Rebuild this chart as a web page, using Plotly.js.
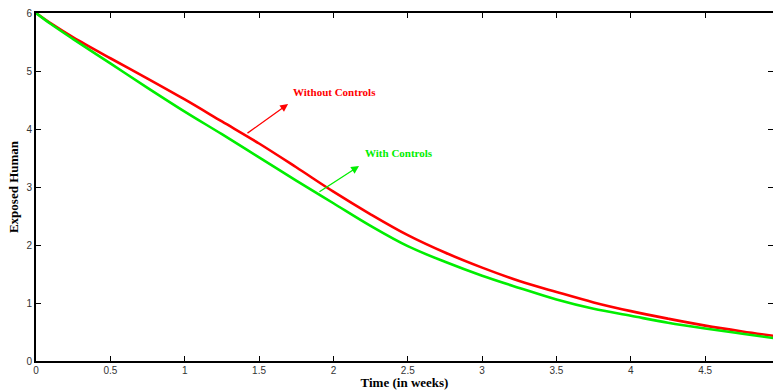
<!DOCTYPE html>
<html>
<head>
<meta charset="utf-8">
<script src="https://cdn.plot.ly/plotly-3.0.1.min.js"></script>
<style>html,body{margin:0;padding:0;background:#fff;}#chart{width:773px;height:390px;}</style>
</head>
<body>
<div id="chart"></div>
<script>
const timeWeeks = [0, 0.1, 0.25, 0.5, 0.75, 1, 1.25, 1.5, 1.75, 2, 2.25, 2.5, 2.75, 3, 3.25, 3.5, 3.75, 4, 4.25, 4.5, 4.75, 5];
const withoutControls = [6.0, 5.82, 5.58, 5.22, 4.87, 4.51, 4.13, 3.75, 3.34, 2.92, 2.53, 2.17, 1.87, 1.61, 1.38, 1.19, 1.01, 0.86, 0.73, 0.61, 0.51, 0.42];
const withControls = [6.0, 5.81, 5.55, 5.13, 4.71, 4.30, 3.91, 3.51, 3.11, 2.72, 2.33, 1.98, 1.71, 1.47, 1.26, 1.06, 0.90, 0.78, 0.66, 0.56, 0.47, 0.38];
const xTicks = [0, 0.5, 1, 1.5, 2, 2.5, 3, 3.5, 4, 4.5, 5];
const xTickLabels = ["0", "0.5", "1", "1.5", "2", "2.5", "3", "3.5", "4", "4.5", "5"];
const yTicks = [0, 1, 2, 3, 4, 5, 6];
const yTickLabels = ["0", "1", "2", "3", "4", "5", "6"];
const seriesNames = ["Without Controls", "With Controls"];

const data = [
  {x: timeWeeks, y: withoutControls, name: seriesNames[0], mode: 'lines', line: {color: '#ff0000', width: 2.6, shape: 'spline'}},
  {x: timeWeeks, y: withControls, name: seriesNames[1], mode: 'lines', line: {color: '#00ee00', width: 2.6, shape: 'spline'}}
];

const serif = 'Liberation Serif, Times New Roman, serif';
const layout = {
  width: 773, height: 390,
  margin: {l: 36, r: 0, t: 13, b: 29},
  paper_bgcolor: '#fff', plot_bgcolor: '#fff',
  showlegend: false,
  font: {family: 'Liberation Sans, Arial, sans-serif', size: 10, color: '#333'},
  xaxis: {
    range: [0, 4.956], tickvals: xTicks, ticktext: xTickLabels,
    showgrid: false, zeroline: false, showline: true, linecolor: '#000', linewidth: 2,
    mirror: 'allticks', ticks: 'inside', ticklen: 5, tickcolor: '#000', tickwidth: 1,
    ticklabelstandoff: -1,
    tickfont: {size: 10, color: '#333'},
    title: {text: 'Time (in weeks)', font: {family: serif, size: 13, color: '#000', weight: 'bold'}, standoff: 4}
  },
  yaxis: {
    range: [0, 6], tickvals: yTicks, ticktext: yTickLabels,
    showgrid: false, zeroline: false, showline: true, linecolor: '#000', linewidth: 2,
    mirror: 'allticks', ticks: 'inside', ticklen: 5, tickcolor: '#000', tickwidth: 1,
    tickfont: {size: 10, color: '#333'},
    title: {text: 'Exposed Human', font: {family: serif, size: 13, color: '#000', weight: 'bold'}, standoff: 5}
  },
  annotations: [
    {x: 1.695, y: 4.43, ax: 1.412, ay: 3.91, xref: 'x', yref: 'y', axref: 'x', ayref: 'y', text: '', showarrow: true, arrowhead: 2, arrowsize: 1.2, arrowwidth: 1.3, arrowcolor: '#ff0000'},
    {x: 2.172, y: 3.36, ax: 1.896, ay: 2.90, xref: 'x', yref: 'y', axref: 'x', ayref: 'y', text: '', showarrow: true, arrowhead: 2, arrowsize: 1.2, arrowwidth: 1.3, arrowcolor: '#00ee00'},
    {x: 2.007, y: 4.64, xref: 'x', yref: 'y', text: '<b>' + seriesNames[0] + '</b>', showarrow: false, font: {family: serif, size: 11, color: '#ff0000'}},
    {x: 2.441, y: 3.59, xref: 'x', yref: 'y', text: '<b>' + seriesNames[1] + '</b>', showarrow: false, font: {family: serif, size: 11, color: '#00ee00'}}
  ]
};
Plotly.newPlot('chart', data, layout, {displayModeBar: false, staticPlot: true});
</script>
</body>
</html>
